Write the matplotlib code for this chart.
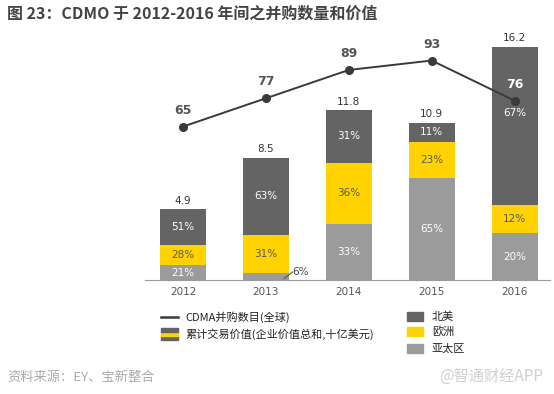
import matplotlib.pyplot as plt
import numpy as np
from matplotlib.patches import Rectangle
from matplotlib.lines import Line2D

plt.rcParams['font.family'] = ['Noto Sans CJK SC', 'DejaVu Sans']

# 数据
years = ['2012', '2013', '2014', '2015', '2016']
totals = [4.9, 8.5, 11.8, 10.9, 16.2]          # 累计交易价值(十亿美元)
asia = [21, 6, 33, 65, 20]                      # 亚太区 %
europe = [28, 31, 36, 23, 12]                   # 欧洲 %
namerica = [51, 63, 31, 11, 67]                 # 北美 %
deals = [65, 77, 89, 93, 76]                    # CDMA并购数目(全球)

c_dark = '#646464'
c_yel = '#FFD200'
c_light = '#9B9B9B'
c_line = '#3a3a3a'

fig = plt.figure(figsize=(5.54, 3.94), dpi=100)
ax = fig.add_axes([145/554, 1-280/394, 405/554, 240/394])
ax2 = ax.twinx()

x = np.arange(len(years))
w = 0.555
tot = np.array(totals)
a = tot*np.array(asia)/100
e = tot*np.array(europe)/100
n = tot - a - e

ax.bar(x, a, w, color=c_light, zorder=2)
ax.bar(x, e, w, bottom=a, color=c_yel, zorder=2)
ax.bar(x, n, w, bottom=a+e, color=c_dark, zorder=2)

num = ['DejaVu Sans']
for i in range(len(years)):
    ax.text(x[i], tot[i]+0.25, f'{totals[i]}', ha='center', va='bottom',
            fontsize=7.5, color='#333333', family=num)
    if asia[i] >= 10:
        ax.text(x[i], a[i]/2, f'{asia[i]}%', ha='center', va='center',
                fontsize=7.5, color='white', family=num)
    else:
        ax.plot([x[i]+0.22, x[i]+0.32], [0.1, 0.55], color='#555555', lw=0.8, zorder=3)
        ax.text(x[i]+0.32, 0.55, f'{asia[i]}%', ha='left', va='center',
                fontsize=7.5, color='#444444', family=num)
    ax.text(x[i], a[i]+e[i]/2, f'{europe[i]}%', ha='center', va='center',
            fontsize=7.5, color='#5a5a5a', family=num)
    ypos = a[i]+e[i]+n[i]/2
    if i == 4:
        ypos = a[i]+e[i]+n[i]*0.58
    ax.text(x[i], ypos, f'{namerica[i]}%', ha='center', va='center',
            fontsize=7.5, color='white', family=num)

ax2.plot(x, deals, color=c_line, lw=1.4, marker='o', ms=5.5, zorder=4)
for i in range(len(years)):
    col = 'white' if i == 4 else '#555555'
    ax2.text(x[i], deals[i]+4.2, str(deals[i]), ha='center', va='bottom',
             fontsize=9, fontweight='bold', color=col, family=num)

ax.set_xlim(-0.458, 4.427)
ax.set_ylim(0, 16.67)
ax2.set_ylim(0, 101.7)
ax.set_xticks(x)
ax.set_xticklabels(years, fontsize=7.5, color='#555555', family=num)
ax.tick_params(axis='x', length=0, pad=5)
ax.set_yticks([])
ax2.set_yticks([])
for s in ['top', 'right', 'left']:
    ax.spines[s].set_visible(False)
    ax2.spines[s].set_visible(False)
ax2.spines['bottom'].set_visible(False)
ax.spines['bottom'].set_color('#999999')
ax.spines['bottom'].set_linewidth(0.8)

# 标题
fig.text(7/554, 1-14/394, '图 23：CDMO 于 2012-2016 年间之并购数量和价值',
         fontsize=11.5, fontweight='bold', color='#444444', va='center', ha='left')

# 图例
def px(xp, yp):
    return xp/554, 1-yp/394

fig.add_artist(Line2D([161/554, 178/554], [1-317/394]*2, color=c_line, lw=1.8))
fig.add_artist(Rectangle(px(161, 340), 17/554, 4/394, color=c_dark))
fig.add_artist(Rectangle(px(161, 336), 17/554, 4/394, color=c_yel))
fig.add_artist(Rectangle(px(161, 332), 17/554, 4/394, color=c_dark))
fig.text(*px(185, 317), 'CDMA并购数目(全球)', fontsize=8, color='#222222', va='center')
fig.text(*px(185, 334), '累计交易价值(企业价值总和,十亿美元)', fontsize=8, color='#222222', va='center')

for yc, col, lab in [(316.5, c_dark, '北美'), (331.5, c_yel, '欧洲'), (348.5, c_light, '亚太区')]:
    fig.add_artist(Rectangle(px(407, yc+4.5), 16/554, 9/394, color=col))
    fig.text(*px(432, yc), lab, fontsize=8, color='#222222', va='center')

fig.text(*px(7, 377), '资料来源：EY、宝新整合', fontsize=9.5, color='#aaaaaa',
         style='italic', va='center')
fig.text(*px(543, 376), '@智通财经APP', fontsize=11, color='#d0d0d0',
         va='center', ha='right')

fig.savefig('out.png', dpi=100)
